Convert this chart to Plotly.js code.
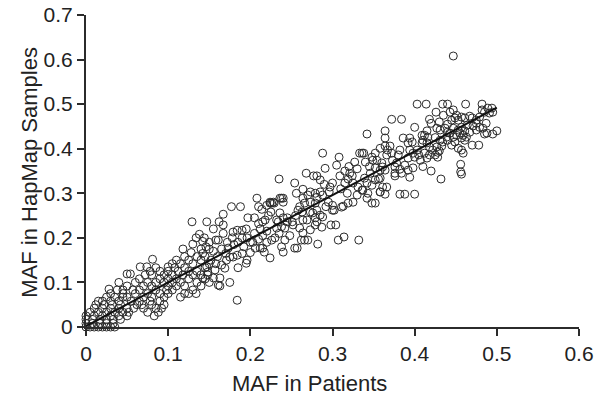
<!DOCTYPE html>
<html>
<head>
<meta charset="utf-8">
<script src="https://cdn.plot.ly/plotly-3.0.1.min.js"></script>
<style>html,body{margin:0;padding:0;background:#fff;}#chart{width:601px;height:405px;}</style>
</head>
<body>
<div id="chart"></div>
<script>
// [MAF in Patients, MAF in HapMap Samples] pairs, by band of patient MAF
const bandA = [
  [0,0],[0.005,0],[0.01,0],[0.015,0],[0.02,0],[0.025,0],[0.03,0],[0.035,0],
  [0,0.008],[0.008,0.008],[0.017,0.008],[0.025,0.008],[0.033,0.008],
  [0,0.017],[0.008,0.017],[0.017,0.017],[0.025,0.017],[0.033,0.017],[0.042,0.017],
  [0,0.025],[0.01,0.025],[0.02,0.025],[0.03,0.025],[0.04,0.025],[0.05,0.025],
  [0.005,0.033],[0.015,0.033],[0.025,0.033],[0.035,0.033],[0.045,0.033],
  [0.01,0.042],[0.02,0.042],[0.03,0.042],[0.04,0.042],[0.05,0.042],
  [0.012,0.05],[0.022,0.05],[0.032,0.05],[0.042,0.05],
  [0.02,0.058],[0.03,0.058],[0.04,0.058],[0.015,0.058],
  [0.025,0.067],[0.035,0.067],[0.045,0.067],
  [0.03,0.075],[0.045,0.075],[0.028,0.085],[0.038,0.083],[0.04,0.1],[0.05,0.119],[0.054,0.119]
];
const bandB = [
  [0.052,0.033],[0.058,0.042],[0.062,0.05],[0.055,0.058],[0.05,0.067],[0.06,0.075],[0.065,0.058],[0.07,0.042],
  [0.075,0.033],[0.08,0.05],[0.085,0.042],[0.09,0.058],[0.095,0.05],[0.07,0.067],[0.075,0.075],[0.08,0.067],
  [0.085,0.083],[0.09,0.075],[0.095,0.067],[0.1,0.075],[0.065,0.083],[0.07,0.092],[0.075,0.1],[0.08,0.092],
  [0.085,0.1],[0.09,0.108],[0.095,0.1],[0.1,0.092],[0.06,0.1],[0.065,0.108],[0.072,0.117],[0.078,0.125],
  [0.08,0.117],[0.066,0.135],[0.074,0.135],[0.081,0.152],[0.085,0.133],[0.09,0.125],[0.095,0.117],[0.1,0.108],
  [0.1,0.135],[0.057,0.083],[0.05,0.092],[0.045,0.083],[0.088,0.033],[0.092,0.042],[0.098,0.083],[0.078,0.058],
  [0.068,0.05],[0.083,0.025]
];
const bandC = [
  [0.105,0.083],[0.11,0.092],[0.105,0.1],[0.11,0.108],[0.115,0.1],[0.12,0.092],[0.118,0.117],[0.112,0.125],
  [0.105,0.117],[0.1,0.125],[0.108,0.133],[0.115,0.142],[0.12,0.133],[0.125,0.125],[0.125,0.108],[0.13,0.117],
  [0.135,0.125],[0.13,0.142],[0.125,0.15],[0.12,0.158],[0.128,0.167],[0.135,0.158],[0.14,0.15],[0.145,0.133],
  [0.14,0.117],[0.145,0.108],[0.135,0.1],[0.13,0.083],[0.125,0.075],[0.134,0.075],[0.115,0.067],[0.12,0.075],
  [0.14,0.092],[0.15,0.1],[0.148,0.117],[0.15,0.142],[0.145,0.158],[0.14,0.175],[0.13,0.186],[0.134,0.2],
  [0.129,0.236],[0.138,0.208],[0.142,0.192],[0.15,0.175],[0.11,0.15],[0.105,0.142],[0.118,0.175]
];
const bandD = [
  [0.147,0.236],[0.155,0.22],[0.167,0.253],[0.162,0.236],[0.167,0.229],[0.177,0.27],[0.188,0.27],[0.197,0.245],
  [0.142,0.165],[0.146,0.18],[0.15,0.19],[0.144,0.2],[0.158,0.195],[0.161,0.195],[0.167,0.21],
  [0.173,0.177],[0.175,0.157],[0.179,0.157],[0.184,0.161],[0.179,0.213],[0.184,0.217],[0.19,0.217],[0.195,0.22],
  [0.19,0.2],[0.196,0.2],[0.196,0.15],[0.195,0.143],[0.157,0.128],[0.163,0.11],[0.161,0.094],[0.175,0.1],[0.163,0.092],
  [0.165,0.139],[0.171,0.15],[0.169,0.132],[0.184,0.06],[0.147,0.135],[0.148,0.123],[0.142,0.11],[0.155,0.11],
  [0.155,0.17],[0.16,0.158],[0.165,0.175],[0.17,0.165],[0.18,0.185],[0.185,0.19],[0.192,0.18],[0.2,0.19],
  [0.152,0.15],[0.158,0.142],[0.185,0.133],[0.19,0.165],[0.2,0.167],[0.178,0.2],[0.172,0.19]
];
const bandE = [
  [0.208,0.289],[0.21,0.27],[0.214,0.264],[0.22,0.273],[0.224,0.278],[0.226,0.278],[0.229,0.278],[0.236,0.289],[0.24,0.289],
  [0.235,0.332],[0.254,0.323],[0.205,0.245],[0.21,0.232],[0.215,0.236],[0.212,0.22],[0.205,0.21],[0.215,0.205],
  [0.22,0.215],[0.222,0.25],[0.225,0.258],[0.218,0.24],[0.206,0.177],[0.212,0.177],[0.215,0.177],[0.217,0.168],
  [0.224,0.155],[0.238,0.18],[0.24,0.168],[0.23,0.2],[0.235,0.21],[0.238,0.225],[0.232,0.24],[0.245,0.245],
  [0.236,0.256],[0.24,0.245],[0.234,0.236],[0.245,0.236],[0.232,0.222],[0.242,0.222],[0.224,0.28],[0.228,0.28],
  [0.238,0.289],[0.24,0.28],[0.226,0.195],[0.242,0.195],[0.203,0.19],[0.22,0.19],[0.248,0.205],[0.21,0.197]
];
const bandF = [
  [0.254,0.177],[0.257,0.177],[0.251,0.236],[0.252,0.229],[0.268,0.345],[0.277,0.339],[0.281,0.339],[0.288,0.39],[0.291,0.356],
  [0.258,0.262],[0.263,0.258],[0.264,0.24],[0.269,0.24],[0.273,0.258],[0.276,0.256],[0.279,0.245],[0.281,0.236],
  [0.26,0.222],[0.264,0.211],[0.273,0.218],[0.279,0.229],[0.287,0.224],[0.298,0.229],[0.304,0.229],
  [0.297,0.314],[0.3,0.323],[0.296,0.303],[0.285,0.303],[0.288,0.296],[0.279,0.3],[0.281,0.291],[0.27,0.296],
  [0.264,0.289],[0.266,0.278],[0.273,0.28],[0.279,0.278],[0.281,0.262],[0.285,0.251],[0.288,0.247],[0.3,0.273],
  [0.302,0.262],[0.264,0.309],[0.273,0.303],[0.282,0.186],[0.266,0.195],[0.27,0.195],[0.255,0.25],[0.26,0.27],
  [0.292,0.27],[0.295,0.28],[0.256,0.3],[0.29,0.32],[0.285,0.33],[0.262,0.195]
];
const bandG = [
  [0.308,0.381],[0.305,0.363],[0.336,0.39],[0.338,0.39],[0.342,0.433],[0.309,0.339],[0.321,0.345],[0.324,0.339],
  [0.319,0.332],[0.325,0.323],[0.315,0.323],[0.331,0.314],[0.336,0.307],[0.342,0.323],[0.343,0.3],
  [0.311,0.269],[0.319,0.278],[0.325,0.28],[0.313,0.271],[0.3,0.262],[0.307,0.195],[0.314,0.202],[0.332,0.195],
  [0.33,0.296],[0.337,0.307],[0.342,0.289],[0.348,0.278],[0.352,0.278],[0.356,0.332],[0.361,0.314],[0.358,0.303],[0.364,0.298],
  [0.348,0.381],[0.349,0.374],[0.358,0.401],[0.364,0.406],[0.367,0.397],[0.37,0.406],[0.372,0.39],[0.366,0.386],
  [0.352,0.357],[0.358,0.352],[0.36,0.368],[0.361,0.359],[0.373,0.374],[0.378,0.368],[0.382,0.397],[0.38,0.386],
  [0.376,0.359],[0.382,0.354],[0.388,0.363],[0.392,0.379],[0.398,0.39],[0.394,0.397],[0.386,0.424],[0.394,0.424],
  [0.397,0.415],[0.392,0.413],[0.364,0.44],[0.364,0.424],[0.372,0.466],[0.384,0.466],[0.376,0.345],[0.384,0.345],
  [0.392,0.352],[0.398,0.357],[0.394,0.336],[0.382,0.298],[0.388,0.298],[0.4,0.298],[0.358,0.303],[0.366,0.314],
  [0.376,0.339],[0.333,0.39],[0.352,0.39],[0.354,0.374],[0.346,0.345],[0.339,0.334],[0.348,0.318],[0.352,0.33],
  [0.358,0.334],[0.364,0.352],[0.315,0.35],[0.32,0.36],[0.33,0.355],[0.327,0.37],[0.31,0.31],[0.318,0.3],[0.345,0.36],[0.34,0.37]
];
const bandH = [
  [0.403,0.5],[0.414,0.5],[0.4,0.448],[0.418,0.466],[0.42,0.457],[0.426,0.482],[0.409,0.43],[0.412,0.43],
  [0.416,0.426],[0.41,0.419],[0.409,0.413],[0.415,0.413],[0.418,0.404],[0.403,0.397],[0.405,0.386],[0.4,0.381],
  [0.407,0.374],[0.412,0.39],[0.415,0.379],[0.418,0.386],[0.422,0.397],[0.427,0.404],[0.428,0.392],[0.425,0.386],
  [0.431,0.419],[0.434,0.415],[0.433,0.406],[0.439,0.426],[0.44,0.419],[0.443,0.435],[0.447,0.426],[0.449,0.415],
  [0.445,0.408],[0.451,0.43],[0.455,0.435],[0.457,0.424],[0.459,0.43],[0.463,0.426],[0.461,0.419],[0.457,0.397],
  [0.459,0.39],[0.453,0.401],[0.434,0.5],[0.44,0.5],[0.462,0.5],[0.482,0.5],[0.443,0.482],[0.447,0.487],
  [0.451,0.475],[0.449,0.469],[0.445,0.464],[0.453,0.464],[0.457,0.471],[0.461,0.469],[0.467,0.473],[0.47,0.469],
  [0.475,0.464],[0.479,0.471],[0.482,0.487],[0.485,0.482],[0.489,0.491],[0.494,0.491],[0.495,0.482],[0.491,0.48],
  [0.487,0.457],[0.464,0.453],[0.471,0.451],[0.475,0.457],[0.5,0.44],[0.495,0.433],[0.485,0.433],[0.47,0.408],
  [0.478,0.408],[0.456,0.365],[0.456,0.348],[0.457,0.343],[0.432,0.332],[0.428,0.381],[0.447,0.608],
  [0.427,0.446],[0.431,0.442],[0.437,0.446],[0.44,0.437],[0.447,0.446],[0.453,0.442],[0.457,0.448],[0.461,0.44],
  [0.467,0.437],[0.475,0.442],[0.479,0.448],[0.483,0.446],[0.488,0.435],[0.41,0.36],[0.42,0.35],[0.415,0.44],
  [0.43,0.46],[0.435,0.475],[0.44,0.455],[0.425,0.425],[0.43,0.395]
];
// regression line (as drawn)
const fitX = [0, 0.5];
const fitY = [0.002, 0.492];
const xTicks = [0, 0.1, 0.2, 0.3, 0.4, 0.5, 0.6];
const xTickText = ['0', '0.1', '0.2', '0.3', '0.4', '0.5', '0.6'];
const yTicks = [0, 0.1, 0.2, 0.3, 0.4, 0.5, 0.6, 0.7];
const yTickText = ['0', '0.1', '0.2', '0.3', '0.4', '0.5', '0.6', '0.7'];
const xTitle = 'MAF in Patients';
const yTitle = 'MAF in HapMap Samples';

const all = [].concat(bandA, bandB, bandC, bandD, bandE, bandF, bandG, bandH);
const ink = '#2b2b2b';
const font = 'Liberation Sans, Arial, Helvetica, sans-serif';

const traces = [
  {
    type: 'scatter', mode: 'markers',
    x: all.map(p => p[0]), y: all.map(p => p[1]),
    marker: {symbol: 'circle-open', size: 8, color: ink, line: {width: 1, color: ink}},
    cliponaxis: false, hoverinfo: 'x+y'
  },
  {
    type: 'scatter', mode: 'lines', x: fitX, y: fitY,
    line: {color: '#111', width: 2}, cliponaxis: false
  }
];

const axisCommon = {
  showgrid: false, zeroline: false, showline: true, linewidth: 2, linecolor: ink,
  ticks: 'outside', ticklen: 7, tickwidth: 2, tickcolor: ink,
  tickfont: {size: 21, color: '#222', family: font}, fixedrange: true
};

const layout = {
  width: 601, height: 405,
  margin: {l: 86, r: 22, t: 15, b: 78, pad: 0},
  paper_bgcolor: '#fff', plot_bgcolor: '#fff',
  showlegend: false,
  font: {family: font, color: '#222'},
  xaxis: Object.assign({}, axisCommon, {range: [0, 0.6], tickvals: xTicks, ticktext: xTickText}),
  yaxis: Object.assign({}, axisCommon, {range: [0, 0.7], tickvals: yTicks, ticktext: yTickText}),
  annotations: [
    {text: xTitle, xref: 'paper', yref: 'paper', x: 0.454, y: -0.18, xanchor: 'center', yanchor: 'middle',
     showarrow: false, font: {size: 22, color: '#222', family: font}},
    {text: yTitle, xref: 'paper', yref: 'paper', x: -0.114, y: 0.497, xanchor: 'center', yanchor: 'middle',
     textangle: -90, showarrow: false, font: {size: 22, color: '#222', family: font}}
  ]
};

Plotly.newPlot('chart', traces, layout, {displayModeBar: false, staticPlot: true});
</script>
</body>
</html>
